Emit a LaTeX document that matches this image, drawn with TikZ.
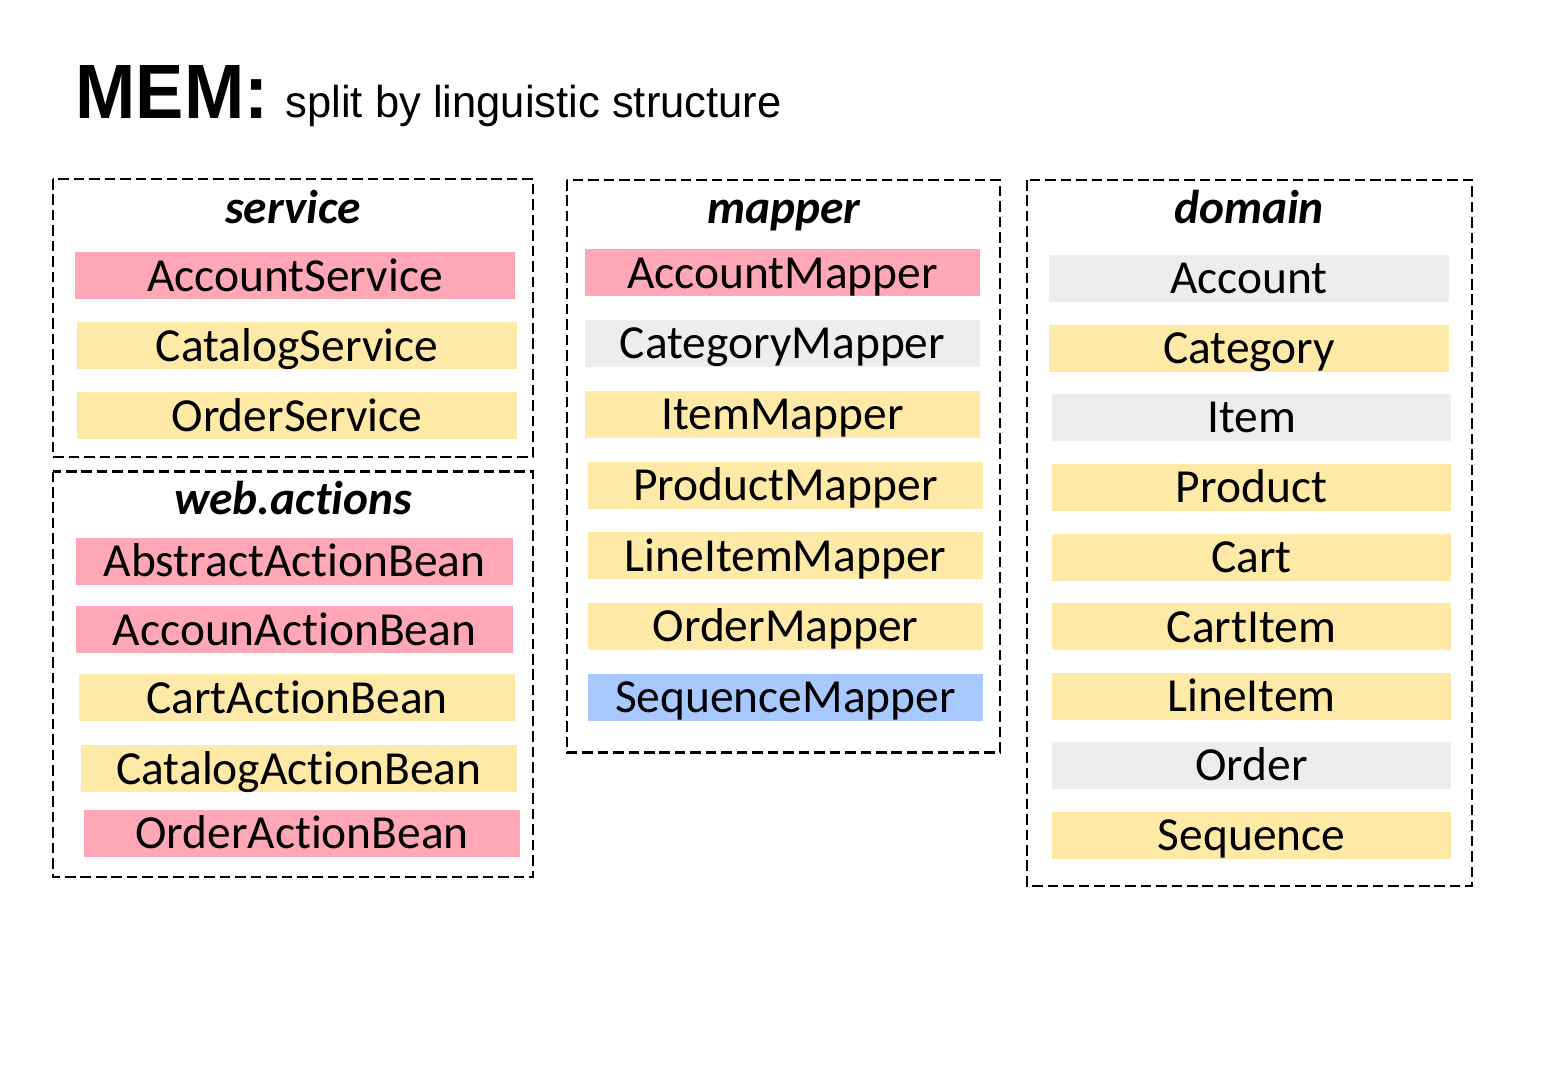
\documentclass[tikz,border=0pt]{standalone}
\usepackage{fontspec}
\usepackage{graphicx}
\newfontfamily\titlefont{Liberation Sans}
\newfontfamily\labelfont[Ligatures=NoCommon,RawFeature={-liga;-clig;-dlig}]{Carlito}
\definecolor{clspink}{HTML}{FFA6B7}
\definecolor{clsyellow}{HTML}{FFE9A6}
\definecolor{clsgrey}{HTML}{EDEDED}
\definecolor{clsblue}{HTML}{A8C9FF}
\begin{document}
\begin{tikzpicture}[
    cls/.style={inner sep=0pt, minimum height=0.47cm, text height=0.31cm, text depth=0cm,
                font=\labelfont\fontsize{13.5pt}{16pt}\selectfont},
    pinkcls/.style={cls, fill=clspink},
    yellowcls/.style={cls, fill=clsyellow},
    greycls/.style={cls, fill=clsgrey},
    bluecls/.style={cls, fill=clsblue},
    pkg/.style={draw, line width=0.7pt, dash pattern=on 3pt off 1.4pt},
    pkgname/.style={anchor=base, inner sep=0pt,
                font=\labelfont\bfseries\itshape\fontsize{13.5pt}{16pt}\selectfont}]
                \useasboundingbox (0,0) rectangle (15.53,-10.68) ;
                % title
                \node [anchor=base west, inner sep=0pt, font=\titlefont\bfseries\fontsize{21.9pt}{26pt}\selectfont] (mem) at (0.75,-1.18) {\scalebox{0.94}[1]{MEM:}} ;
                \node [anchor=base west, inner sep=0pt, font=\titlefont\fontsize{12.7pt}{15pt}\selectfont] (subtitle) at (2.85,-1.17) {\scalebox{0.975}[1]{split by linguistic structure}} ;
                % service
                \draw [pkg] (0.53,-1.79) rectangle (5.33,-4.57) ;
                \node [pkgname] (service) at (2.93,-2.23) {service} ;
                \node [pinkcls, minimum width=4.40cm] (accountservice) at (2.95,-2.755) {AccountService} ;
                \node [yellowcls, minimum width=4.40cm] (catalogservice) at (2.97,-3.455) {CatalogService} ;
                \node [yellowcls, minimum width=4.40cm] (orderservice) at (2.97,-4.155) {OrderService} ;
                % web.actions
                \draw [pkg] (0.53,-4.715) rectangle (5.33,-8.77) ;
                \node [pkgname] (webactions) at (2.93,-5.14) {web.actions} ;
                \node [pinkcls, minimum width=4.37cm] (abstractaction) at (2.945,-5.61) {AbstractActionBean} ;
                \node [pinkcls, minimum width=4.37cm] (accountaction) at (2.945,-6.295) {AccounActionBean} ;
                \node [yellowcls, minimum width=4.36cm] (cartaction) at (2.97,-6.975) {CartActionBean} ;
                \node [yellowcls, minimum width=4.36cm] (catalogaction) at (2.99,-7.685) {CatalogActionBean} ;
                \node [pinkcls, minimum width=4.36cm] (orderaction) at (3.02,-8.33) {OrderActionBean} ;
                % mapper
                \draw [pkg] (5.67,-1.80) rectangle (10.00,-7.525) ;
                \node [pkgname] (mapper) at (7.84,-2.23) {mapper} ;
                \node [pinkcls, minimum width=3.95cm] (accountmapper) at (7.825,-2.725) {AccountMapper} ;
                \node [greycls, minimum width=3.95cm] (categorymapper) at (7.825,-3.43) {CategoryMapper} ;
                \node [yellowcls, minimum width=3.95cm] (itemmapper) at (7.825,-4.14) {ItemMapper} ;
                \node [yellowcls, minimum width=3.95cm] (productmapper) at (7.855,-4.85) {ProductMapper} ;
                \node [yellowcls, minimum width=3.95cm] (lineitemmapper) at (7.855,-5.555) {LineItemMapper} ;
                \node [yellowcls, minimum width=3.95cm] (ordermapper) at (7.855,-6.26) {OrderMapper} ;
                \node [bluecls, minimum width=3.95cm] (sequencemapper) at (7.855,-6.97) {SequenceMapper} ;
                % domain
                \draw [pkg] (10.27,-1.80) rectangle (14.72,-8.86) ;
                \node [pkgname] (domain) at (12.49,-2.23) {domain} ;
                \node [greycls, minimum width=4.00cm] (account) at (12.49,-2.78) {Account} ;
                \node [yellowcls, minimum width=4.00cm] (category) at (12.49,-3.48) {Category} ;
                \node [greycls, minimum width=3.99cm] (item) at (12.515,-4.17) {Item} ;
                \node [yellowcls, minimum width=3.99cm] (product) at (12.515,-4.87) {Product} ;
                \node [yellowcls, minimum width=3.99cm] (cart) at (12.515,-5.57) {Cart} ;
                \node [yellowcls, minimum width=3.99cm] (cartitem) at (12.515,-6.265) {CartItem} ;
                \node [yellowcls, minimum width=3.99cm] (lineitem) at (12.515,-6.96) {LineItem} ;
                \node [greycls, minimum width=3.99cm] (order) at (12.515,-7.65) {Order} ;
                \node [yellowcls, minimum width=3.99cm] (sequence) at (12.515,-8.35) {Sequence} ;
            \end{tikzpicture}
\end{document}
